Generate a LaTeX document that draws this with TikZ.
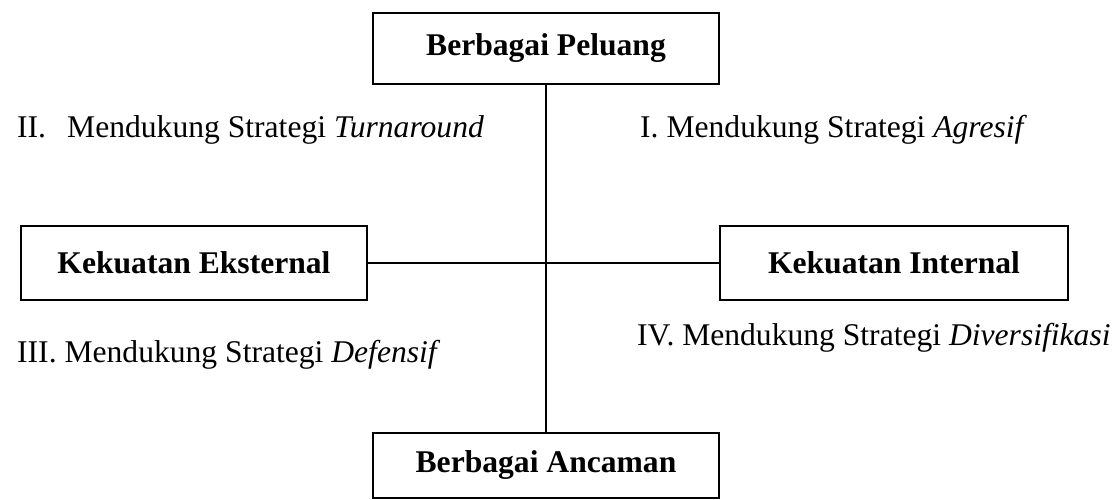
\documentclass[tikz,border=0pt]{standalone}
\usepackage{fontspec}
\setmainfont{Liberation Serif}
\begin{document}
\begin{tikzpicture}[x=1pt,y=-1pt,
  box/.style={draw, line width=1.6pt, inner sep=0pt,
    font=\fontsize{31.6}{36}\selectfont\bfseries},
  conn/.style={line width=1.6pt},
  quad/.style={anchor=base west, inner sep=0pt,
    font=\fontsize{31.6}{36}\selectfont}]
\useasboundingbox (0,0) rectangle (1114,500);

% the four boxes of the matrix
\node[box, minimum width=346pt, minimum height=71pt] (peluang) at (546,48.5) {Berbagai Peluang};
\node[box, minimum width=346pt, minimum height=65pt] (ancaman) at (546,465.5) {Berbagai Ancaman};
\node[box, minimum width=346pt, minimum height=74pt] (eksternal) at (194,263) {Kekuatan Eksternal};
\node[box, minimum width=348pt, minimum height=74pt] (internal) at (894,263) {Kekuatan Internal};

% axes
\draw[conn] (peluang.south) -- (ancaman.north);
\draw[conn] (eksternal.east) -- (internal.west);

% quadrant labels
\node[quad] (q2) at (17,138) {\makebox[50pt][l]{II.}Mendukung Strategi \textit{Turnaround}};
\node[quad] (q1) at (640,138) {I. Mendukung Strategi \textit{Agresif}};
\node[quad] (q3) at (17,362) {III. Mendukung Strategi \textit{Defensif}};
\node[quad] (q4) at (637,345) {IV. Mendukung Strategi \textit{Diversifikasi}};
\end{tikzpicture}
\end{document}
